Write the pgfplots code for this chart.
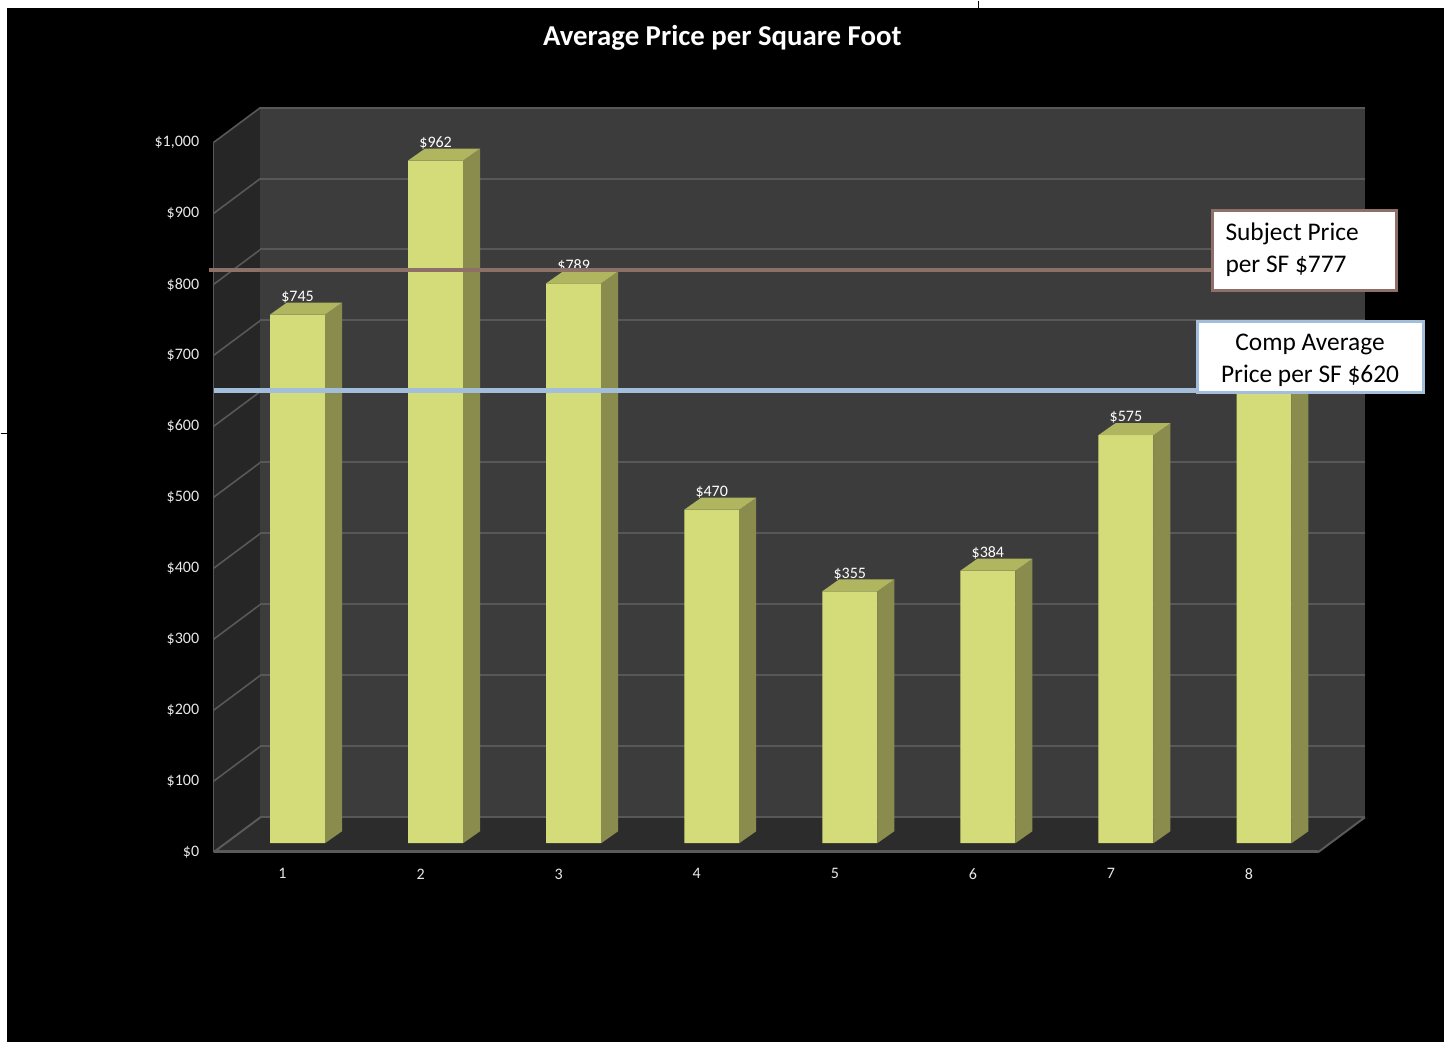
\documentclass[border=0pt]{standalone}
\usepackage{pgfplots}
\pgfplotsset{compat=1.18}
\usepackage{pgfplotstable}
\usepackage{fontspec}
\setmainfont{Carlito}
\definecolor{wallback}{RGB}{60,60,60}
\definecolor{sidewall}{RGB}{38,38,38}
\definecolor{floorc}{RGB}{44,44,44}
\definecolor{gridc}{RGB}{88,88,88}
\definecolor{edgec}{RGB}{90,90,90}
\definecolor{barfront}{RGB}{212,220,122}
\definecolor{barside}{RGB}{138,140,78}
\definecolor{bartop}{RGB}{176,181,96}
\definecolor{subjc}{RGB}{141,112,103}
\definecolor{compc}{RGB}{163,190,218}
\definecolor{tickc}{RGB}{232,232,232}

\pgfplotstableread{
x v
1 745
2 962
3 789
4 470
5 355
6 384
7 575
8 680
}\bardata

\begin{document}
\begin{tikzpicture}
% ---------- background (pixel coordinates) ----------
\begin{scope}[shift={(-106.5pt,426pt)}, x=0.5pt, y=-0.5pt]
  \fill[white] (0,0) rectangle (1444,1042);
  \fill[black] (6,7) rectangle (1444,1042);
  \draw[black, line width=0.6pt] (978,0) -- (978,7);
  \draw[black, line width=0.6pt] (0,433) -- (6,433);
  \node[text=white, font=\bfseries\fontsize{14.4}{17}\selectfont] at (722,37) {Average Price per Square Foot};
  % side wall
  \fill[sidewall] (213,852) -- (213,142) -- (260,107) -- (260,817) -- cycle;
  \foreach \k in {1,...,10} {
    \draw[gridc, line width=0.8pt] (213,{852-71*\k}) -- (260,{817-71*\k});
  }
  \draw[edgec, line width=0.8pt] (213,852) -- (213,142);
  % floor
  \fill[floorc] (213,852) -- (1318,852) -- (1365,817) -- (260,817) -- cycle;
  \draw[edgec, line width=1pt] (213,852) -- (260,817);
  \draw[edgec, line width=1pt] (1318,852) -- (1365,817);
  \draw[edgec, line width=1.5pt] (213,851) -- (1318,851);
\end{scope}

% ---------- back wall ----------
\begin{axis}[at={(23.5pt,17.5pt)}, anchor=south west, scale only axis,
  width=552.5pt, height=355pt, xmin=0.5, xmax=8.5, ymin=0, ymax=1000,
  enlargelimits=false, xtick=\empty, ytick={0,100,...,1000}, yticklabels={},
  ymajorgrids, grid style={draw=gridc, line width=1pt},
  major tick length=0pt, axis line style={draw=none},
  axis background/.style={fill=wallback}]
\addplot[draw=none] coordinates {(1,0)};
\end{axis}

% ---------- bars ----------
\begin{axis}[at={(7.5pt,4.5pt)}, anchor=south west, scale only axis,
  width=552.5pt, height=355pt, xmin=0.5, xmax=8.5, ymin=0, ymax=1000,
  enlargelimits=false, hide axis, clip=false,
  /pgf/number format/assume math mode=true]
% front faces
\addplot[ybar, bar width=27.5pt, fill=barfront, draw=none] table[x=x,y=v]{\bardata};
% side faces (sheared nodes, height from the bar value)
\addplot[draw=none, mark=none,
  visualization depends on={rawy \as \rawy},
  nodes near coords={\relax},
  every node near coord/.append style={anchor=south, inner sep=0pt, outer sep=0pt,
     fill=barside, draw=none, minimum width=8.5pt,
     minimum height={\rawy*0.355pt},
     xshift=18pt, yshift={3pt-\rawy*0.355pt}, yslant=0.70588}
  ] table[x=x,y=v]{\bardata};
% top faces
\addplot[draw=none, mark=none,
  nodes near coords={\relax},
  every node near coord/.append style={anchor=south, inner sep=0pt, outer sep=0pt,
     fill=bartop, draw=none, minimum width=27.5pt, minimum height=6pt,
     xslant=1.41667}
  ] table[x=x,y=v]{\bardata};
% value labels
\addplot[draw=none, mark=none, restrict x to domain=1:7,
  nodes near coords={\$\pgfmathprintnumber{\pgfplotspointmeta}},
  point meta=explicit,
  every node near coord/.append style={text=white, inner sep=0pt, anchor=south, yshift=5.5pt,
     font=\fontsize{8}{9.6}\selectfont}
  ] table[x=x,y=v,meta=v]{\bardata};
\end{axis}

% ---------- front axis: tick labels and reference lines ----------
\begin{axis}[at={(0pt,0pt)}, anchor=south west, scale only axis,
  width=552.5pt, height=355pt, xmin=0.5, xmax=8.5, ymin=0, ymax=1000,
  enlargelimits=false, clip=false,
  xtick={1,...,8}, ytick={0,100,...,1000},
  axis line style={draw=none}, major tick length=0pt,
  tick label style={text=tickc, font=\fontsize{8}{9.6}\selectfont, inner sep=0pt},
  yticklabel style={xshift=-7pt},
  xticklabel style={yshift=-8pt},
  yticklabel={\$\pgfmathprintnumber{\tick}},
  /pgf/number format/1000 sep={,},
  /pgf/number format/assume math mode=true]
\addplot[draw=subjc, line width=2pt] coordinates {(0.464,820) (7.8,820)};
\addplot[draw=compc, line width=2.3pt] coordinates {(0.5,651) (8.877,651)};
\end{axis}

% ---------- text boxes ----------
\begin{scope}[shift={(-106.5pt,426pt)}, x=0.5pt, y=-0.5pt]
  \filldraw[fill=white, draw=subjc, line width=1.5pt] (1212,210) rectangle (1396,290);
  \node[anchor=west, align=left, inner sep=0pt, font=\fontsize{12.7}{16}\selectfont] at (1225,249) {Subject Price\\per SF \$777};
  \filldraw[fill=white, draw=compc, line width=1.5pt] (1197,321) rectangle (1423,392);
  \node[align=center, inner sep=0pt, font=\fontsize{12.7}{16}\selectfont] at (1310,360) {Comp Average\\Price per SF \$620};
\end{scope}
\end{tikzpicture}
\end{document}
